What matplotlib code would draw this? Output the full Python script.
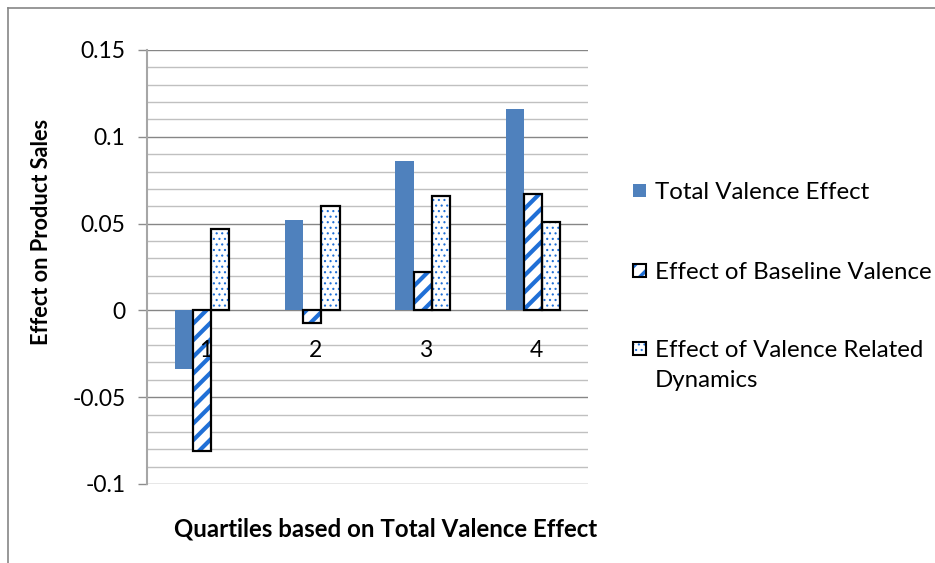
import numpy as np
import matplotlib
matplotlib.use("Agg")
import matplotlib.pyplot as plt
from matplotlib.patches import Rectangle
from matplotlib.lines import Line2D

plt.rcParams['font.family'] = ['Lato', 'DejaVu Sans']

# data
quartiles = ['1', '2', '3', '4']
total_effect = [-0.034, 0.052, 0.086, 0.116]
baseline_effect = [-0.081, -0.007, 0.022, 0.067]
dynamics_effect = [0.047, 0.060, 0.066, 0.051]
series_names = ['Total Valence Effect', 'Effect of Baseline Valence',
                'Effect of Valence Related\nDynamics']

W, H = 935, 563
fig = plt.figure(figsize=(W / 100, H / 100), dpi=100)
ax = fig.add_axes([147 / W, 1 - 484 / H, (588 - 147) / W, (484 - 50) / H])

blue = '#4f81bd'
stripe = '#1f6fd6'
x = np.arange(1, len(quartiles) + 1)
bw = 0.165

# total effect: solid bars
ax.bar(x - bw, total_effect, bw, color=blue, linewidth=0, zorder=3)
# baseline: blue stripes, black outline
plt.rcParams['hatch.linewidth'] = 3.0
ax.bar(x, baseline_effect, bw, color='white', edgecolor=stripe, hatch='//',
       linewidth=0, zorder=3)
ax.bar(x, baseline_effect, bw, fill=False, edgecolor='black', linewidth=1.6, zorder=4)
# dynamics: blue dots, black outline
plt.rcParams['hatch.linewidth'] = 0.8
ax.bar(x + bw, dynamics_effect, bw, color='white', edgecolor=stripe, hatch='...',
       linewidth=0, zorder=3)
ax.bar(x + bw, dynamics_effect, bw, fill=False, edgecolor='black', linewidth=1.6, zorder=4)

ax.set_xlim(0.5, 4.5)
ax.set_ylim(-0.1, 0.15)
ax.set_yticks(np.arange(-0.1, 0.151, 0.05))
ax.set_yticklabels(['-0.1', '-0.05', '0', '0.05', '0.1', '0.15'])
ax.set_yticks(np.arange(-0.1, 0.151, 0.01), minor=True)
ax.tick_params(axis='y', which='major', length=6.5, width=1, color='#8c8c8c',
               labelsize=16.5, pad=9)
ax.tick_params(axis='y', which='minor', length=0)
ax.set_xticks([])
ax.grid(axis='y', which='major', color='#868686', linewidth=1, zorder=0)
ax.grid(axis='y', which='minor', color='#c0c0c0', linewidth=1, zorder=0)
ax.set_axisbelow(True)
for s in ['top', 'right', 'bottom']:
    ax.spines[s].set_visible(False)
ax.spines['left'].set_color('#a6a6a6')
ax.spines['left'].set_linewidth(1.5)

# category labels sit below the zero line
for xi, lab in zip(x, quartiles):
    ax.annotate(lab, (xi + 0.03, 0), xytext=(0, -21), textcoords='offset points',
                ha='center', va='top', fontsize=16.5)

fig.text(42 / W, 1 - 232 / H, 'Effect on Product Sales', rotation=90,
         ha='center', va='center', fontsize=15.7, fontweight='bold')
fig.text(386 / W, 1 - 529 / H, 'Quartiles based on Total Valence Effect',
         ha='center', va='center', fontsize=17.3, fontweight='bold')

# legend
leg_y = [191, 271, 349]
hatches = [None, '//', '...']
hatch_lw = [1.0, 2.5, 0.8]
for i, (name, yy) in enumerate(zip(series_names, leg_y)):
    plt.rcParams['hatch.linewidth'] = hatch_lw[i]
    r = Rectangle((633 / W, 1 - (yy + 6) / H), 13 / W, 13 / H, transform=fig.transFigure,
                  facecolor=blue if i == 0 else 'white',
                  edgecolor=blue if i == 0 else stripe, linewidth=0,
                  hatch=hatches[i])
    fig.add_artist(r)
    if i > 0:
        fig.add_artist(Rectangle((633 / W, 1 - (yy + 6) / H), 13 / W, 13 / H,
                                 transform=fig.transFigure, fill=False,
                                 edgecolor='black', linewidth=1.5))
    fig.text(655 / W, 1 - (yy - 9) / H, name, ha='left', va='top',
             fontsize=17.3, linespacing=1.55)

# outer border of the chart
fig.add_artist(Line2D([7.5 / W, 7.5 / W], [0, 1 - 8 / H], transform=fig.transFigure,
                      color='#868686', linewidth=1.2))
fig.add_artist(Line2D([7.5 / W, 1], [1 - 8 / H, 1 - 8 / H], transform=fig.transFigure,
                      color='#868686', linewidth=1.2))

fig.savefig('out.png', dpi=100)
